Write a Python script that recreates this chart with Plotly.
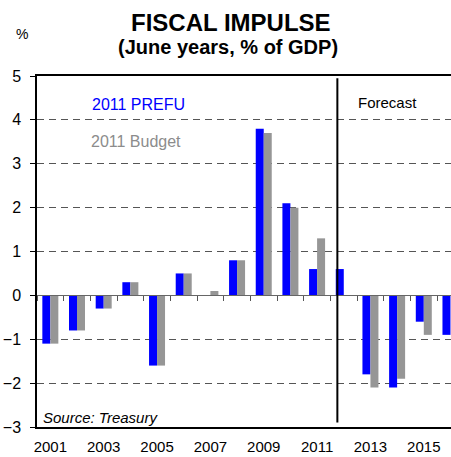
import plotly.graph_objects as go

years = [str(y) for y in range(2001, 2017)]
prefu = [-1.1, -0.8, -0.3, 0.3, -1.6, 0.5, 0.0, 0.8, 3.8, 2.1, 0.6, 0.6, -1.8, -2.1, -0.6, -0.9]
budget = [-1.1, -0.8, -0.3, 0.3, -1.6, 0.5, 0.1, 0.8, 3.7, 2.0, 1.3, None, -2.1, -1.9, -0.9, None]
tick_years = [str(y) for y in range(2001, 2017, 2)]
y_ticks = list(range(-3, 6))

W, H = 451, 457
L, R, T, B = 37, 0, 76, 30
pw, ph = W - L - R, H - T - B

def px(x):
    return (x - L) / pw

def py(y):
    return (H - B - y) / ph

FONT = "Arial, Liberation Sans, sans-serif"

fig = go.Figure()
fig.add_bar(x=years, y=prefu, name="2011 PREFU", marker_color="#0000FF", marker_line_width=0)
fig.add_bar(x=years, y=budget, name="2011 Budget", marker_color="#969696", marker_line_width=0)
fig.add_scatter(x=years, y=[None] * len(years), xaxis="x2", showlegend=False, hoverinfo="skip")

fig.update_layout(
    width=W, height=H,
    margin=dict(l=L, r=R, t=T, b=B),
    paper_bgcolor="white", plot_bgcolor="white",
    barmode="group", bargap=0.4, bargroupgap=0,
    showlegend=False,
    font=dict(family=FONT, color="black", size=16),
    xaxis=dict(
        type="category", categoryorder="array", categoryarray=years,
        range=[-0.5, 15.02], automargin=False,
        tickmode="array", tickvals=tick_years, ticktext=tick_years,
        ticks="", ticklabelstandoff=5,
        tickfont=dict(size=15, family=FONT),
        showline=True, linecolor="black", linewidth=1.5, mirror=True,
        showgrid=False, zeroline=False,
    ),
    xaxis2=dict(
        type="category", categoryorder="array", categoryarray=years,
        range=[-0.5, 15.02], overlaying="x", anchor="free", position=0.375,
        automargin=False,
        ticks="outside", tickson="boundaries", ticklen=5, tickcolor="#555555",
        showticklabels=False, showline=True, linecolor="#666666", linewidth=1,
        showgrid=False, zeroline=False,
    ),
    yaxis=dict(
        range=[-3, 5], tickmode="array", tickvals=y_ticks, automargin=False,
        ticks="outside", ticklen=5, tickcolor="black",
        ticklabelstandoff=6,
        tickfont=dict(size=16, family=FONT),
        showline=True, linecolor="black", linewidth=1.5,
        showgrid=True, gridcolor="#555555", gridwidth=1, griddash="7px,5px",
        zeroline=False,
    ),
)

fig.add_shape(type="line", xref="x", yref="y", x0=10.76, x1=10.76, y0=-2.9, y1=4.95,
              line=dict(color="black", width=2))

ann = [
    dict(text="<b>FISCAL IMPULSE</b>", x=px(231), y=py(22), size=24, color="black"),
    dict(text="<b>(June years, % of GDP)</b>", x=px(228), y=py(47), size=20, color="black"),
    dict(text="%", x=px(22), y=py(34), size=14, color="black"),
    dict(text="2011 PREFU", x=px(138), y=py(105), size=16, color="#0000FF"),
    dict(text="2011 Budget", x=px(136), y=py(141), size=16, color="#8C8C8C"),
    dict(text="Forecast", x=px(387), y=py(102), size=15, color="black"),
]
for a in ann:
    fig.add_annotation(text=a["text"], xref="paper", yref="paper", x=a["x"], y=a["y"],
                       showarrow=False, xanchor="center", yanchor="middle",
                       font=dict(size=a["size"], color=a["color"], family=FONT))
fig.add_annotation(text="<i>Source: Treasury</i>", xref="paper", yref="paper",
                   x=px(41), y=py(417), showarrow=False, xanchor="left", yanchor="middle",
                   font=dict(size=15, color="black", family=FONT))

fig.write_html("out.html")
